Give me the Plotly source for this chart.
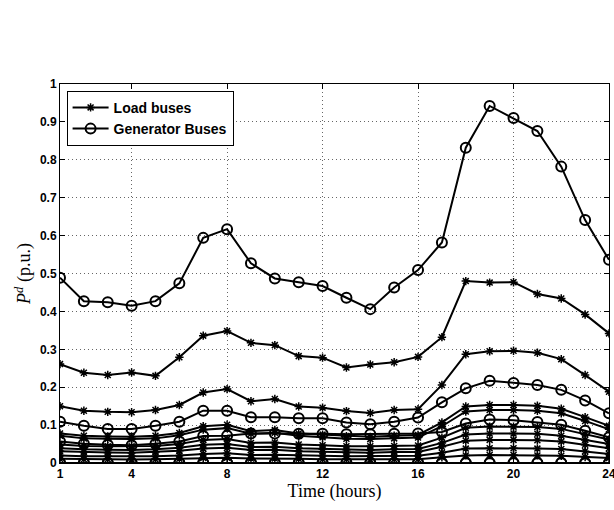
import plotly.graph_objects as go

hours = list(range(1, 25))

# Generator buses (p.u.)
gen_bus3 = [0.489, 0.427, 0.424, 0.415, 0.427, 0.474, 0.594, 0.617, 0.527, 0.487, 0.477, 0.467,
            0.436, 0.406, 0.463, 0.509, 0.582, 0.832, 0.942, 0.910, 0.876, 0.782, 0.641, 0.536]
gen_bus2 = [0.109, 0.098, 0.090, 0.090, 0.098, 0.109, 0.138, 0.138, 0.121, 0.121, 0.118, 0.118,
            0.107, 0.102, 0.109, 0.120, 0.160, 0.197, 0.217, 0.211, 0.206, 0.193, 0.165, 0.131]
gen_bus6 = [0.057, 0.051, 0.048, 0.047, 0.051, 0.057, 0.071, 0.072, 0.078, 0.078, 0.077, 0.077,
            0.076, 0.076, 0.077, 0.078, 0.082, 0.104, 0.115, 0.113, 0.108, 0.101, 0.085, 0.068]
gen_bus1 = [0.0] * 24
gen_bus8 = [0.0] * 24

# Load buses (p.u.)
load_bus4 = [0.261, 0.238, 0.232, 0.239, 0.230, 0.279, 0.336, 0.348, 0.317, 0.311, 0.282, 0.278,
             0.252, 0.260, 0.266, 0.280, 0.332, 0.480, 0.476, 0.477, 0.446, 0.434, 0.392, 0.342]
load_bus9 = [0.150, 0.138, 0.135, 0.134, 0.140, 0.153, 0.186, 0.195, 0.163, 0.169, 0.149, 0.146,
             0.137, 0.132, 0.140, 0.142, 0.206, 0.287, 0.295, 0.296, 0.291, 0.274, 0.232, 0.188]
load_bus14 = [0.078, 0.072, 0.070, 0.069, 0.072, 0.079, 0.097, 0.101, 0.084, 0.087, 0.078, 0.075,
              0.071, 0.069, 0.072, 0.074, 0.107, 0.149, 0.153, 0.153, 0.151, 0.143, 0.121, 0.098]
load_bus13 = [0.072, 0.065, 0.064, 0.063, 0.065, 0.073, 0.088, 0.092, 0.077, 0.080, 0.072, 0.068,
              0.064, 0.063, 0.065, 0.067, 0.097, 0.136, 0.140, 0.140, 0.138, 0.131, 0.111, 0.089]
load_bus10 = [0.049, 0.045, 0.044, 0.044, 0.045, 0.050, 0.061, 0.063, 0.053, 0.054, 0.049, 0.047,
              0.044, 0.044, 0.045, 0.046, 0.067, 0.093, 0.096, 0.096, 0.095, 0.090, 0.076, 0.062]
load_bus5 = [0.039, 0.036, 0.035, 0.034, 0.036, 0.040, 0.048, 0.050, 0.042, 0.043, 0.039, 0.037,
             0.035, 0.034, 0.036, 0.037, 0.053, 0.075, 0.078, 0.078, 0.077, 0.072, 0.061, 0.050]
load_bus12 = [0.031, 0.029, 0.028, 0.027, 0.029, 0.032, 0.038, 0.040, 0.034, 0.035, 0.031, 0.030,
              0.028, 0.027, 0.029, 0.029, 0.043, 0.059, 0.061, 0.061, 0.060, 0.057, 0.048, 0.039]
load_bus11 = [0.020, 0.018, 0.018, 0.018, 0.018, 0.020, 0.024, 0.026, 0.021, 0.022, 0.020, 0.019,
              0.018, 0.018, 0.018, 0.019, 0.027, 0.038, 0.039, 0.039, 0.038, 0.037, 0.031, 0.024]
load_bus7 = [0.011, 0.010, 0.010, 0.009, 0.010, 0.011, 0.013, 0.014, 0.012, 0.012, 0.011, 0.010,
             0.010, 0.009, 0.010, 0.010, 0.015, 0.020, 0.021, 0.021, 0.020, 0.019, 0.016, 0.013]

load_series = [load_bus4, load_bus9, load_bus14, load_bus13, load_bus10, load_bus5,
               load_bus12, load_bus11, load_bus7]
gen_series = [gen_bus3, gen_bus2, gen_bus6, gen_bus1, gen_bus8]

x_ticks = [1, 4, 8, 12, 16, 20, 24]
y_ticks = [0, 0.1, 0.2, 0.3, 0.4, 0.5, 0.6, 0.7, 0.8, 0.9, 1]
y_tick_text = ["0", "0.1", "0.2", "0.3", "0.4", "0.5", "0.6", "0.7", "0.8", "0.9", "1"]

fig = go.Figure()

for i, s in enumerate(load_series):
    fig.add_trace(go.Scatter(
        x=hours, y=s, mode="lines+markers", name="Load buses",
        showlegend=(i == 0),
        line=dict(color="black", width=2),
        marker=dict(symbol="asterisk-open", size=7, color="black",
                    line=dict(color="black", width=1.5)),
    ))

for i, s in enumerate(gen_series):
    fig.add_trace(go.Scatter(
        x=hours, y=s, mode="lines+markers", name="Generator Buses",
        showlegend=(i == 0),
        line=dict(color="black", width=2),
        marker=dict(symbol="circle-open", size=10, color="black",
                    line=dict(color="black", width=2)),
    ))

tickfont = dict(family="Liberation Sans, Arial, sans-serif", size=12, color="black", weight="bold")
titlefont = dict(family="Liberation Serif, DejaVu Serif, serif", size=18, color="black")

fig.update_layout(
    width=614, height=510,
    margin=dict(l=60, r=5, t=84, b=47, autoexpand=False),
    paper_bgcolor="white", plot_bgcolor="white",
    legend=dict(
        x=0.012, y=0.982, xanchor="left", yanchor="top",
        bgcolor="white", bordercolor="black", borderwidth=1,
        font=dict(family="Liberation Sans, Arial, sans-serif", size=14, color="black", weight="bold"),
        tracegroupgap=0, itemwidth=36,
    ),
    xaxis=dict(
        range=[1, 24], tickmode="array", tickvals=x_ticks,
        ticks="inside", ticklen=5, tickcolor="black",
        showline=True, linecolor="black", linewidth=1, mirror="ticks",
        showgrid=True, gridcolor="#666666", griddash="1px,3px", gridwidth=1,
        zeroline=False, tickfont=tickfont, ticklabeloverflow="allow",
        automargin=False,
        title=dict(text="Time (hours)", font=titlefont, standoff=0),
    ),
    yaxis=dict(
        range=[0, 1], tickmode="array", tickvals=y_ticks, ticktext=y_tick_text,
        ticks="inside", ticklen=5, tickcolor="black",
        showline=True, linecolor="black", linewidth=1, mirror="ticks",
        showgrid=True, gridcolor="#666666", griddash="1px,3px", gridwidth=1,
        zeroline=False, tickfont=tickfont, ticklabeloverflow="allow",
        automargin=False,
        title=dict(text="<i>P</i><sup><i>d</i></sup> (p.u.)", font=titlefont, standoff=4),
    ),
)

fig.write_html("out.html")
